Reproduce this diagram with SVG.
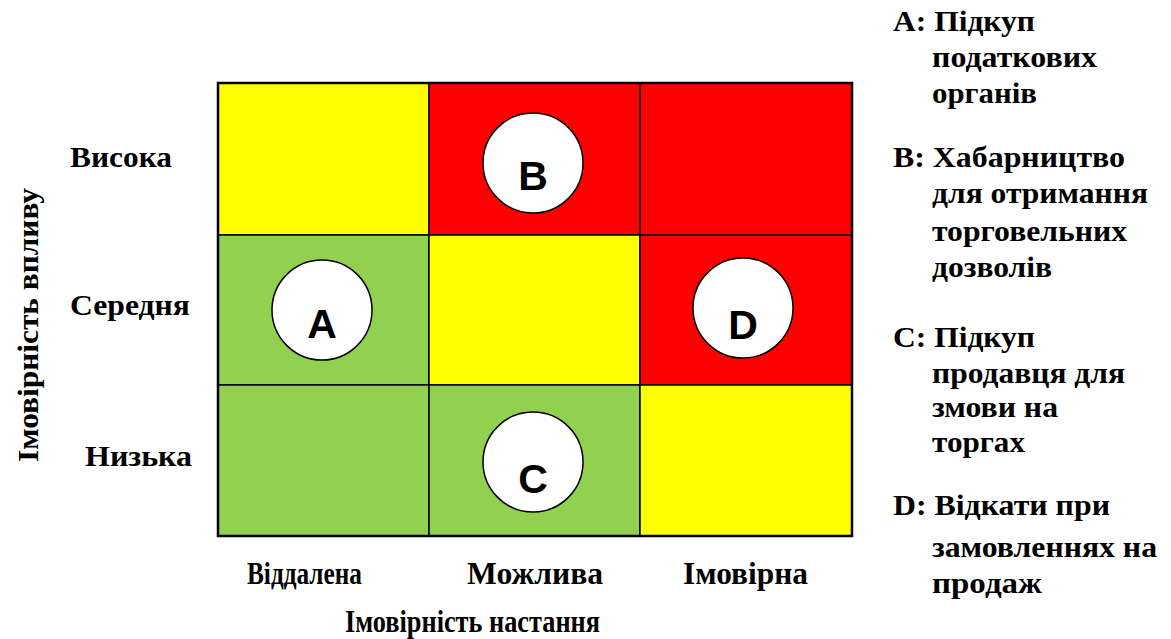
<svg xmlns="http://www.w3.org/2000/svg" width="1171" height="639" viewBox="0 0 1171 639">
  <style>
    .cell { stroke: #000; stroke-width: 1.5; }
    .y { fill: #FFFF00; }
    .r { fill: #FF0000; }
    .g { fill: #92D050; }
    .mark { fill: #fff; stroke: #000; stroke-width: 1.5; }
    .letter { font-family: Liberation Sans, Arial, sans-serif; font-weight: bold; font-size: 41px; text-anchor: middle; fill: #000; }
  </style>
  <rect width="1171" height="639" fill="#fff"/>

  <!-- risk matrix cells -->
  <g id="matrix">
    <rect class="cell y" x="218" y="83" width="211" height="152"/>
    <rect class="cell r" x="429" y="83" width="211" height="152"/>
    <rect class="cell r" x="640" y="83" width="212" height="152"/>
    <rect class="cell g" x="218" y="235" width="211" height="150"/>
    <rect class="cell y" x="429" y="235" width="211" height="150"/>
    <rect class="cell r" x="640" y="235" width="212" height="150"/>
    <rect class="cell g" x="218" y="385" width="211" height="151"/>
    <rect class="cell g" x="429" y="385" width="211" height="151"/>
    <rect class="cell y" x="640" y="385" width="212" height="151"/>
    <rect x="218" y="83" width="634" height="453" fill="none" stroke="#000" stroke-width="2.5"/>
  </g>

  <!-- risk markers -->
  <g id="risk-A">
    <circle class="mark" cx="322" cy="310" r="50"/>
    <text class="letter" x="322" y="338">A</text>
  </g>
  <g id="risk-B">
    <circle class="mark" cx="533" cy="163" r="50"/>
    <text class="letter" x="533" y="190">B</text>
  </g>
  <g id="risk-C">
    <circle class="mark" cx="533" cy="462" r="50"/>
    <text class="letter" x="533" y="493">C</text>
  </g>
  <g id="risk-D">
    <circle class="mark" cx="743" cy="308" r="50"/>
    <text class="letter" x="743" y="339">D</text>
  </g>

  <!-- all labels: bold serif -->
  <g font-family="Liberation Serif, DejaVu Serif, Noto Serif, Noto Serif CJK SC, serif" font-weight="bold" font-size="30" fill="#000">
    <g id="y-axis">
      <text x="70" y="167" textLength="102" lengthAdjust="spacingAndGlyphs">Висока</text>
      <text x="70" y="315" textLength="120" lengthAdjust="spacingAndGlyphs">Середня</text>
      <text x="85" y="466" textLength="107" lengthAdjust="spacingAndGlyphs">Низька</text>
      <text transform="translate(38,462) rotate(-90)" textLength="274" lengthAdjust="spacingAndGlyphs">Імовірність впливу</text>
    </g>
    <g id="x-axis" font-size="32">
      <text x="247" y="584" textLength="115" lengthAdjust="spacingAndGlyphs">Віддалена</text>
      <text x="467" y="584" textLength="136" lengthAdjust="spacingAndGlyphs">Можлива</text>
      <text x="683" y="584" textLength="125" lengthAdjust="spacingAndGlyphs">Імовірна</text>
      <text x="345" y="632" textLength="255" lengthAdjust="spacingAndGlyphs">Імовірність настання</text>
    </g>
    <g id="legend">
      <text x="893" y="31" textLength="142" lengthAdjust="spacingAndGlyphs">A: Підкуп</text>
      <text x="932" y="67" textLength="165" lengthAdjust="spacingAndGlyphs">податкових</text>
      <text x="932" y="103" textLength="105" lengthAdjust="spacingAndGlyphs">органів</text>
      <text x="893" y="167" textLength="232" lengthAdjust="spacingAndGlyphs">B: Хабарництво</text>
      <text x="932" y="203" textLength="216" lengthAdjust="spacingAndGlyphs">для отримання</text>
      <text x="932" y="241" textLength="195" lengthAdjust="spacingAndGlyphs">торговельних</text>
      <text x="932" y="277" textLength="120" lengthAdjust="spacingAndGlyphs">дозволів</text>
      <text x="893" y="347" textLength="142" lengthAdjust="spacingAndGlyphs">C: Підкуп</text>
      <text x="932" y="383" textLength="193" lengthAdjust="spacingAndGlyphs">продавця для</text>
      <text x="932" y="417" textLength="126" lengthAdjust="spacingAndGlyphs">змови на</text>
      <text x="932" y="452" textLength="93" lengthAdjust="spacingAndGlyphs">торгах</text>
      <text x="893" y="515" textLength="217" lengthAdjust="spacingAndGlyphs">D: Відкати при</text>
      <text x="932" y="557" textLength="225" lengthAdjust="spacingAndGlyphs">замовленнях на</text>
      <text x="932" y="593" textLength="110" lengthAdjust="spacingAndGlyphs">продаж</text>
    </g>
  </g>
</svg>
